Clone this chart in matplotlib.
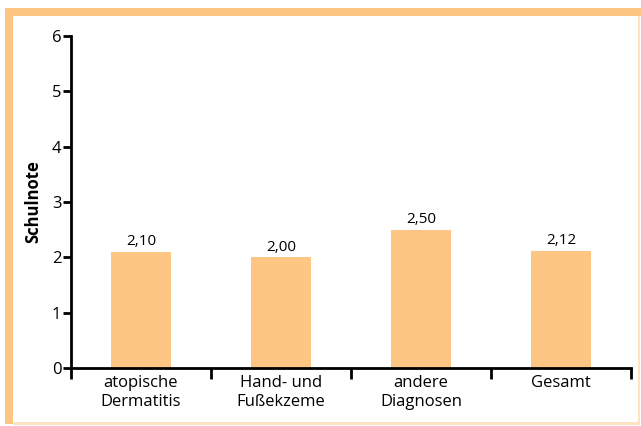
import matplotlib
matplotlib.use("Agg")
import matplotlib.pyplot as plt
from matplotlib.patches import Rectangle
import numpy as np

categories = ["atopische\nDermatitis", "Hand- und\nFußekzeme", "andere\nDiagnosen", "Gesamt"]
values = [2.10, 2.00, 2.50, 2.12]
value_labels = ["2,10", "2,00", "2,50", "2,12"]
yticks = [0, 1, 2, 3, 4, 5, 6]

plt.rcParams['font.family'] = ['Open Sans', 'DejaVu Sans']
W, H = 641, 426
fig = plt.figure(figsize=(W/100, H/100), dpi=100)
color = "#FDC783"

def px(x0, y0, x1, y1, **kw):
    fig.patches.append(Rectangle((x0/W, 1-y1/H), (x1-x0)/W, (y1-y0)/H,
                                 transform=fig.transFigure, figure=fig, **kw))

px(5, 8, 641, 16, color=color, lw=0)
px(5, 8, 13, 424, color=color, lw=0)
px(638, 16, 640, 424, color="#FDE3C0", lw=0)
px(13, 422, 640, 425, color="#FDE3C0", lw=0)

ax = fig.add_axes([71/W, 1-368/H, (631-71)/W, (368-36)/H])
x = np.arange(len(categories))
ax.bar(x, values, width=0.43, color=color, zorder=2)
for xi, v, lab in zip(x, values, value_labels):
    ax.text(xi, v + 0.05, lab, ha="center", va="bottom", fontsize=11)

ax.set_xlim(-0.5, len(categories) - 0.5)
ax.set_ylim(0, 6)
ax.set_yticks(yticks)
ax.set_xticks(x)
ax.set_xticklabels(categories, fontsize=12, linespacing=1.25)
ax.set_xticks(np.arange(len(categories) + 1) - 0.5, minor=True)
ax.tick_params(axis="x", which="major", length=0, pad=5)
ax.tick_params(axis="x", which="minor", length=8, width=2, direction="out")
ax.tick_params(axis="y", length=6, width=2, labelsize=12, pad=1)
for s in ["top", "right"]:
    ax.spines[s].set_visible(False)
for s in ["left", "bottom"]:
    ax.spines[s].set_linewidth(2)
ax.set_ylabel("Schulnote", fontsize=12, fontweight="bold", labelpad=7)

fig.savefig("out.png", dpi=100)
